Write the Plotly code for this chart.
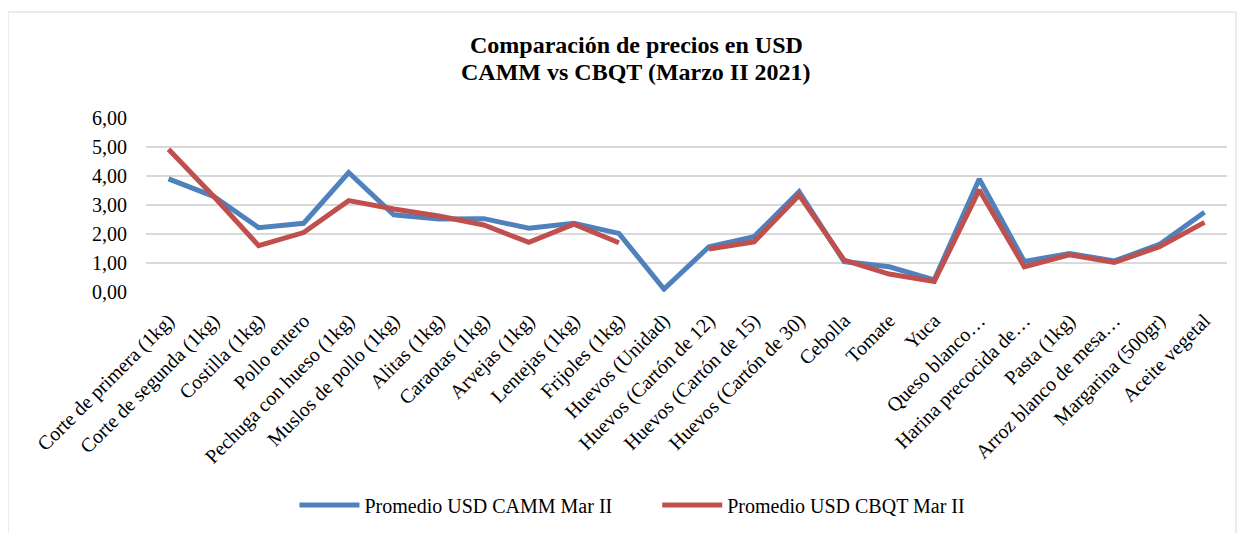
import plotly.graph_objects as go

categories = [
    "Corte de primera (1kg)", "Corte de segunda (1kg)", "Costilla (1kg)", "Pollo entero",
    "Pechuga con hueso (1kg)", "Muslos de pollo (1kg)", "Alitas (1kg)", "Caraotas (1kg)",
    "Arvejas (1kg)", "Lentejas (1kg)", "Frijoles (1kg)", "Huevos (Unidad)",
    "Huevos (Cartón de 12)", "Huevos (Cartón de 15)", "Huevos (Cartón de 30)", "Cebolla",
    "Tomate", "Yuca", "Queso blanco…", "Harina precocida de…", "Pasta (1kg)",
    "Arroz blanco de mesa…", "Margarina (500gr)", "Aceite vegetal",
]
camm = [3.90, 3.30, 2.22, 2.37, 4.12, 2.66, 2.52, 2.53, 2.20, 2.37, 2.02, 0.10,
        1.56, 1.91, 3.46, 1.05, 0.87, 0.42, 3.90, 1.05, 1.33, 1.07, 1.64, 2.75]
cbqt = [4.92, 3.30, 1.60, 2.05, 3.15, 2.86, 2.62, 2.31, 1.71, 2.34, 1.70, None,
        1.48, 1.73, 3.34, 1.10, 0.62, 0.36, 3.52, 0.87, 1.28, 1.02, 1.56, 2.40]
y_ticks = [0, 1, 2, 3, 4, 5, 6]
title_lines = ["Comparación de precios en USD", "CAMM vs CBQT (Marzo II 2021)"]

FONT = "Liberation Serif"
PAD = "\u00a0" * 8

fig = go.Figure()
fig.add_trace(go.Scatter(x=categories, y=camm, mode="lines", name="Promedio USD CAMM Mar II" + PAD,
                         line=dict(color="#4F81BD", width=5)))
fig.add_trace(go.Scatter(x=categories, y=cbqt, mode="lines", name="Promedio USD CBQT Mar II",
                         line=dict(color="#C0504D", width=5), connectgaps=False))

fig.update_layout(
    width=1246, height=533,
    margin=dict(l=138, r=27, t=110, b=249),
    paper_bgcolor="white", plot_bgcolor="white",
    separators=", ",
    font=dict(family=FONT, size=20, color="#000000"),
    xaxis=dict(type="category", tickangle=-45, showgrid=False, showline=False,
               ticks="outside", ticklen=8, tickcolor="rgba(0,0,0,0)",
               range=[-0.5, 23.5], tickfont=dict(family=FONT, size=20)),
    yaxis=dict(range=[0, 6], tickvals=y_ticks, tickformat=".2f", showgrid=True,
               gridcolor="#d9d9d9", gridwidth=2, zeroline=False, showline=False,
               tickfont=dict(family=FONT, size=20), ticklen=14, ticks="outside",
               tickcolor="rgba(0,0,0,0)"),
    legend=dict(orientation="h", x=0.45, xanchor="center", y=-1.224, yanchor="middle",
                font=dict(family=FONT, size=20), itemwidth=60, tracegroupgap=0),
    showlegend=True,
)
for txt, yy in zip(title_lines, [1.4195, 1.2644]):
    fig.add_annotation(text="<b>" + txt + "</b>", xref="paper", yref="paper", x=0.4533, y=yy,
                       xanchor="center", yanchor="middle", showarrow=False,
                       font=dict(family=FONT, size=24, color="#000000"))
fig.add_shape(type="rect", xref="paper", yref="paper", x0=-0.1277, x1=1.0083, y0=-1.5, y1=1.609,
              line=dict(color="#d9d9d9", width=1), fillcolor="rgba(0,0,0,0)", layer="below")

fig.write_html("out.html")
